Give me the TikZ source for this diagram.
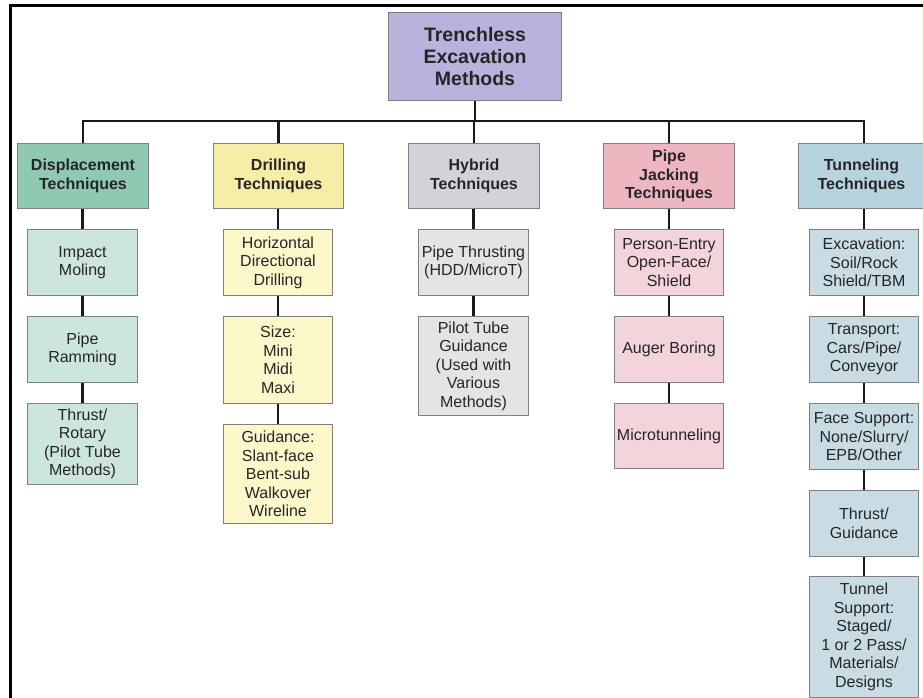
\documentclass[tikz,border=0pt]{standalone}
\usepackage{fontspec}
\setmainfont{Liberation Sans}
\begin{document}
\begin{tikzpicture}[x=1pt,y=-1pt,
  box/.style={draw=black!50, line width=1pt, anchor=north west, align=center, inner sep=1pt,
    font={\fontsize{16}{18.5}\selectfont}, text=black!85},
  hdr/.style={box, font={\bfseries\fontsize{16}{18.5}\selectfont}},
  topbox/.style={box, font={\bfseries\fontsize{19.5}{22}\selectfont}},
  conn/.style={line width=2.6pt, draw=black!90},
  frame/.style={line width=3pt, draw=black}]
\definecolor{cTop}{RGB}{185,178,220}
\definecolor{cDispH}{RGB}{143,201,178}
\definecolor{cDisp}{RGB}{205,230,219}
\definecolor{cDrillH}{RGB}{246,237,166}
\definecolor{cDrill}{RGB}{253,248,202}
\definecolor{cHybH}{RGB}{210,210,216}
\definecolor{cHyb}{RGB}{228,228,228}
\definecolor{cPipeH}{RGB}{238,182,193}
\definecolor{cPipe}{RGB}{243,212,218}
\definecolor{cTunH}{RGB}{183,211,222}
\definecolor{cTun}{RGB}{201,220,228}
\useasboundingbox (0,0) rectangle (923,698);
\fill[white] (0,0) rectangle (923,698);
% frame
\draw[frame] (10,698) -- (10,6) -- (923,6);
% top
\node[topbox, fill=cTop, minimum width=173pt, minimum height=88pt] (top) at (388,12) {Trenchless\\Excavation\\Methods};
% headers
\node[hdr, fill=cDispH, minimum width=131pt, minimum height=65pt] (h1) at (17,143) {Displacement\\Techniques};
\node[hdr, fill=cDrillH, minimum width=130pt, minimum height=65pt] (h2) at (213,143) {Drilling\\Techniques};
\node[hdr, fill=cHybH, minimum width=131pt, minimum height=65pt] (h3) at (408,143) {Hybrid\\Techniques};
\node[hdr, fill=cPipeH, minimum width=131pt, minimum height=65pt] (h4) at (603,143) {Pipe\\Jacking\\Techniques};
\node[hdr, fill=cTunH, minimum width=126pt, minimum height=65pt] (h5) at (798,143) {Tunneling\\Techniques};
% displacement
\node[box, fill=cDisp, minimum width=110pt, minimum height=66pt] (c11) at (27,229) {Impact\\Moling};
\node[box, fill=cDisp, minimum width=110pt, minimum height=66pt] (c12) at (27,316) {Pipe\\Ramming};
\node[box, fill=cDisp, minimum width=110pt, minimum height=81pt] (c13) at (27,403) {Thrust/\\Rotary\\(Pilot Tube\\Methods)};
% drilling
\node[box, fill=cDrill, minimum width=109pt, minimum height=66pt] (c21) at (223,229) {Horizontal\\Directional\\Drilling};
\node[box, fill=cDrill, minimum width=109pt, minimum height=87pt] (c22) at (223,316) {Size:\\Mini\\Midi\\Maxi};
\node[box, fill=cDrill, minimum width=109pt, minimum height=99pt] (c23) at (223,424) {Guidance:\\Slant-face\\Bent-sub\\Walkover\\Wireline};
% hybrid
\node[box, fill=cHyb, minimum width=110pt, minimum height=66pt] (c31) at (418,229) {Pipe Thrusting\\(HDD/MicroT)};
\node[box, fill=cHyb, minimum width=110pt, minimum height=99pt] (c32) at (418,316) {Pilot Tube\\Guidance\\(Used with\\Various\\Methods)};
% pipe jacking
\node[box, fill=cPipe, minimum width=109pt, minimum height=66pt] (c41) at (614,229) {Person-Entry\\Open-Face/\\Shield};
\node[box, fill=cPipe, minimum width=109pt, minimum height=66pt] (c42) at (614,316) {Auger Boring};
\node[box, fill=cPipe, minimum width=109pt, minimum height=65pt] (c43) at (614,403) {Microtunneling};
% tunneling
\node[box, fill=cTun, minimum width=109pt, minimum height=66pt] (c51) at (809,229) {Excavation:\\Soil/Rock\\Shield/TBM};
\node[box, fill=cTun, minimum width=109pt, minimum height=66pt] (c52) at (809,316) {Transport:\\Cars/Pipe/\\Conveyor};
\node[box, fill=cTun, minimum width=109pt, minimum height=66pt] (c53) at (809,403) {Face Support:\\None/Slurry/\\EPB/Other};
\node[box, fill=cTun, minimum width=109pt, minimum height=66pt] (c54) at (809,490) {Thrust/\\Guidance};
\node[box, fill=cTun, minimum width=109pt, minimum height=121pt] (c55) at (809,576) {Tunnel\\Support:\\Staged/\\1 or 2 Pass/\\Materials/\\Designs};
% connectors
\coordinate (bus) at (0,121);
\draw[conn] (top.south) -- (top.south |- bus);
\draw[conn] (h1.north) -- (h1.north |- bus) -- (c51.north |- bus) -- (h5.north -| c51.north);
\foreach \h in {h2,h3,h4} \draw[conn] (\h.north) -- (\h.north |- bus);
\draw[conn] (h1.south -| c11.north) -- (c11.north);
\draw[conn] (c11) -- (c12);
\draw[conn] (c12) -- (c13);
\draw[conn] (h2.south -| c21.north) -- (c21.north);
\draw[conn] (c21) -- (c22);
\draw[conn] (c22) -- (c23);
\draw[conn] (h3.south -| c31.north) -- (c31.north);
\draw[conn] (c31) -- (c32);
\draw[conn] (h4.south -| c41.north) -- (c41.north);
\draw[conn] (c41) -- (c42);
\draw[conn] (c42) -- (c43);
\draw[conn] (h5.south -| c51.north) -- (c51.north);
\draw[conn] (c51) -- (c52);
\draw[conn] (c52) -- (c53);
\draw[conn] (c53) -- (c54);
\draw[conn] (c54) -- (c55);
\end{tikzpicture}
\end{document}
